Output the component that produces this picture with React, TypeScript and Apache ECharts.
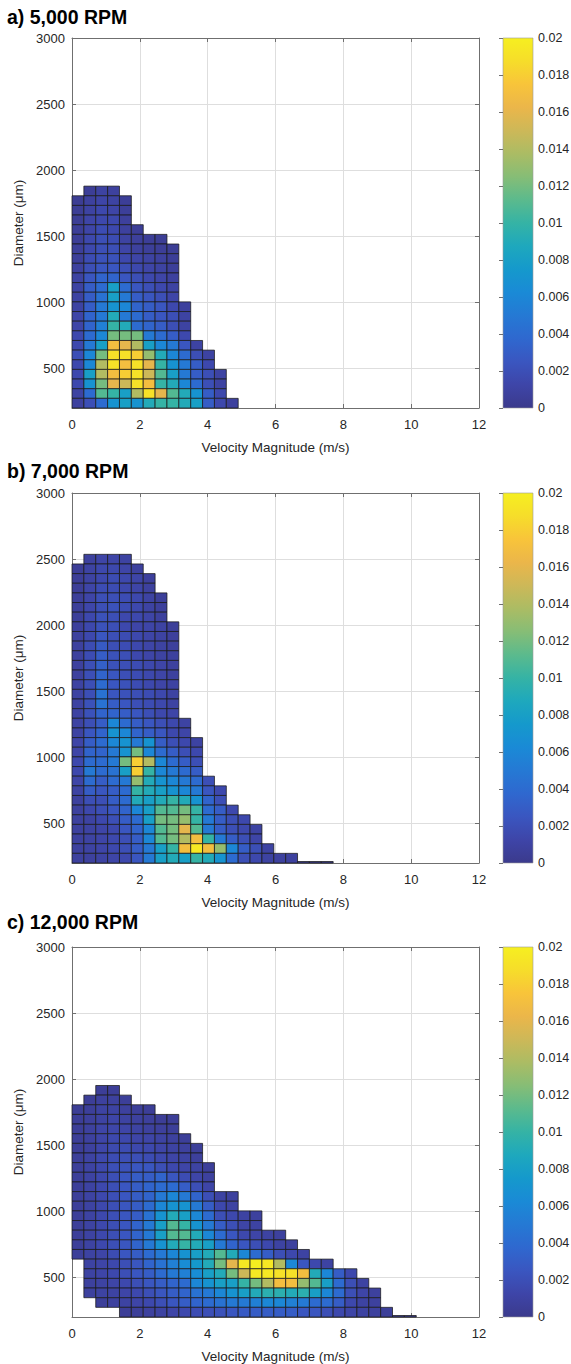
import React, { useEffect, useRef } from 'react';
import * as echarts from 'echarts';

// ---------- data ----------
const _ = null;
// histogram bins
const VEL_BIN = 0.35; // m/s, bin width along velocity
const DIA_START = 200; // µm, first diameter bin edge
const DIA_BIN = 73; // µm, bin height along diameter
const UNIT = 0.001; // values below are given in units of 10^-3

const titles = ['a) 5,000 RPM', 'b) 7,000 RPM', 'c) 12,000 RPM'];
const xTickStep = 2;
const colorbarTicks = { min: 0, max: 0.02, step: 0.002 };

// rows listed from top (largest diameter) to bottom; columns from 0 m/s upward
const density5000: (number | null)[][] = [
  [_, 0.5, 1, 0.8],
  [0.3, 0.8, 1.2, 1, 0.5],
  [0.4, 1, 1.5, 1.2, 0.6],
  [0.4, 1.2, 1.5, 1.5, 0.7],
  [0.5, 1.2, 1.8, 1.5, 0.8, 0.5],
  [0.5, 1.5, 2, 1.8, 1, 0.7, 0.5, 0.4],
  [0.6, 1.5, 2, 2, 1.2, 0.8, 0.6, 0.5, 0.4],
  [0.6, 1.8, 2.2, 2.2, 1.5, 1.2, 1, 0.8, 0.5],
  [0.8, 2, 2.5, 2.5, 2, 1.5, 1.2, 1, 0.6],
  [1, 2.5, 3.5, 3.5, 2.5, 2, 1.5, 1.2, 0.8],
  [1, 3, 4, 8, 4, 2.5, 2, 1.5, 1],
  [1, 3, 4.5, 8, 5, 3, 2.5, 2, 1.2],
  [1, 3, 5, 7, 6, 3.5, 3, 2.5, 1.5, 0.8],
  [1.2, 3.5, 5, 9, 5, 4, 3, 2.5, 2, 1],
  [1.2, 3.5, 5.5, 10, 9, 4, 3.5, 3, 2, 1],
  [1.5, 4, 6, 12, 12, 12, 5, 4, 3, 1.5],
  [1.5, 5, 8, 17, 16, 14, 8, 6, 5, 2.5, 1],
  [2, 6, 12, 19, 19, 18, 13, 9, 6, 4, 2, 1],
  [1.5, 6, 14, 19, 17, 19, 16, 10, 7, 5, 3, 1.5],
  [1.5, 8, 14, 17, 18, 19, 15, 11, 8, 5, 3, 2, 1],
  [1.5, 7, 12, 16, 15, 19, 17, 10, 9, 6, 4, 2, 1],
  [1, 4, 11, 10, 8, 14, 19, 16, 11, 9, 7, 3, 1.5],
  [0.8, 2, 4, 7, 8, 7, 9, 10, 10, 9, 8, 3, 1.5, 0.8],
];

const density7000: (number | null)[][] = [
  [_, 0.8, 1.2, 1.2, 1],
  [0.5, 1, 1.5, 1.5, 1.2, 0.8],
  [0.5, 1, 1.5, 1.8, 1.5, 1.2, 0.7],
  [0.5, 1.2, 1.8, 1.8, 1.5, 1.2, 0.8],
  [0.6, 1.2, 2, 2, 1.8, 1.5, 1, 0.6],
  [0.6, 1.3, 2, 2.2, 1.8, 1.5, 1, 0.7],
  [0.6, 1.5, 2.2, 2, 1.5, 1.5, 1.2, 0.8],
  [0.7, 1.5, 2.2, 2, 1.5, 1.2, 1.2, 1, 0.6],
  [0.8, 1.5, 2.5, 2, 1.8, 1.5, 1.2, 1, 0.7],
  [0.8, 1.8, 2.8, 2, 1.8, 1.5, 1.2, 1, 0.7],
  [0.8, 1.8, 3, 2.2, 2, 1.5, 1.2, 1, 0.8],
  [0.8, 2, 3.2, 2.2, 2, 1.8, 1.5, 1.2, 0.8],
  [0.8, 2, 3.5, 2.5, 2, 1.8, 1.5, 1.2, 0.8],
  [1, 2, 4, 2.5, 2.2, 1.8, 1.5, 1.2, 1],
  [1, 2, 4.5, 2.5, 2.2, 2, 1.8, 1.5, 1],
  [1, 2.2, 4.5, 3, 2.5, 2, 1.8, 1.5, 1],
  [1, 2.2, 3.5, 3.5, 3, 2.5, 2, 1.5, 1.2],
  [1, 2, 3, 6, 4, 3, 2.5, 2, 1.5, 1],
  [1, 2.5, 3.5, 7, 6, 3.5, 3, 2.5, 1.5, 1.2],
  [1.2, 3, 4, 6, 7, 5, 7, 3, 2, 1.5, 1],
  [1.2, 3.5, 3.5, 5, 7, 12, 6, 4, 3, 2, 1.5],
  [1.5, 4, 4, 5, 12, 18, 14, 6, 4, 3, 2],
  [1.5, 5, 4, 4.5, 8, 18, 10, 6, 5, 4, 3],
  [1.2, 4, 3, 4, 5, 13, 9, 7, 6, 5, 4, 2],
  [1, 3, 2.5, 3, 4, 10, 9, 8, 7, 6, 5, 2.5, 1.5],
  [0.8, 2, 2, 3, 4, 9, 8, 9, 10, 9, 7, 3.5, 2],
  [0.8, 1.5, 2, 2.5, 3.5, 6, 8, 11, 11, 12, 10, 4, 3, 1.5],
  [0.8, 1, 1.5, 2, 3, 4, 8, 12, 12, 13, 10, 5, 3, 2, 1.5],
  [0.8, 1, 1.2, 1.5, 2.5, 3.5, 6, 11, 12, 16, 11, 5, 3, 2, 1.5, 1],
  [0.8, 1, 1.2, 1.5, 2, 3, 6, 11, 12, 14, 17, 10, 5, 3, 2, 1.2],
  [0.8, 1, 1.2, 1.5, 2, 3, 5, 8, 10, 17, 19.5, 17, 13, 6, 3, 2, 1],
  [0.8, 0.8, 1, 1.2, 1.5, 2.5, 5, 8, 9, 8, 10, 9, 7, 4, 2, 1.5, 1, 0.8, 0.8],
];

const density12000: (number | null)[][] = [
  [_, _, 0.5, 0.5],
  [_, 0.5, 0.8, 0.8, 0.6],
  [0.4, 0.6, 1, 1, 0.8, 0.6, 0.5],
  [0.5, 0.7, 1, 1.2, 1, 0.8, 0.7, 0.5, 0.5],
  [0.5, 0.8, 1.2, 1.3, 1.2, 1, 0.8, 0.7, 0.6],
  [0.5, 0.8, 1.2, 1.5, 1.5, 1.2, 1.2, 1, 0.8, 0.6],
  [0.5, 0.8, 1.3, 1.6, 1.8, 1.5, 1.5, 1.2, 1, 0.8, 0.6],
  [0.6, 1, 1.5, 1.8, 2, 2, 1.8, 1.5, 1.2, 1, 0.7],
  [0.6, 1, 1.5, 2, 2.2, 2.5, 2.5, 2, 1.5, 1.2, 1, 0.6],
  [0.6, 1, 1.5, 2, 2.5, 3, 3, 3.5, 2.5, 1.8, 1.2, 0.8],
  [0.6, 1, 1.5, 2, 2.5, 3, 3.5, 4, 4, 3, 2, 1.2],
  [0.6, 1, 1.5, 2, 2.5, 3, 3.5, 5, 6, 5, 3.5, 2, 1, 0.8],
  [0.6, 1, 1.5, 2, 2.5, 3, 4, 6, 7, 7, 5, 3, 1.5, 1],
  [0.6, 1, 1.5, 2, 2.5, 3, 4.5, 7, 9, 8, 6, 4, 2, 1.5, 1, 0.8],
  [0.6, 1, 1.5, 2, 2.5, 3.5, 5, 8, 11, 10, 7, 5, 3, 2, 1.2, 1],
  [0.6, 1, 1.5, 2, 2.5, 3.5, 5, 8, 11, 11, 9, 6, 4, 2.5, 1.5, 1.2, 1, 0.8],
  [0.6, 1, 1.5, 2, 2.5, 3.5, 5, 7, 9, 10, 9, 8, 5, 3.5, 2.5, 2, 1.5, 1, 0.8],
  [0.6, 1, 1.2, 1.8, 2.5, 3, 4, 5, 6, 7, 8, 9, 11, 9, 6, 4, 3, 2, 1.5, 1],
  [_, 1, 1.2, 1.5, 2, 2.5, 3.5, 4.5, 5.5, 6.5, 7.5, 9, 12, 16, 19.5, 20, 19.5, 14, 6, 2.5, 1.5, 1],
  [_, 1, 1.2, 1.5, 2, 2.5, 3, 4, 5, 5.5, 6.5, 8, 9, 12, 15, 19.5, 19.5, 19, 19, 17, 9, 6, 3, 1.5],
  [_, 0.8, 1, 1.2, 1.5, 2, 2.5, 3, 3.5, 4, 6, 7, 8, 8, 10, 12, 14, 17, 17, 13, 11, 8, 4, 2, 1],
  [_, 0.8, 1, 1, 1.2, 1.5, 2, 2.5, 3, 3.5, 4.5, 5, 6, 7, 8, 9, 9.5, 9.5, 9, 9.5, 8, 6, 4, 2, 1.2, 0.8],
  [_, _, 0.6, 0.8, 1, 1.2, 1.5, 2, 2.5, 3, 3.5, 4, 4.5, 5, 5, 5.5, 6, 6, 5.5, 5, 4, 4, 3, 1.5, 1, 0.8],
  [_, _, _, _, 0.5, 0.6, 0.8, 1, 1.2, 1.5, 1.8, 2, 2.2, 2.5, 2.8, 3, 3, 3, 3, 2.5, 2.5, 2, 1.5, 1.2, 1, 0.8, 0.6],
];

// columns whose lowest bin only shows as a thin strip on the axis
const sliver5000: number[] = [];
const sliver7000: number[] = [19, 20, 21];
const sliver12000: number[] = [27, 28];
const sliverValue = 0.3;

// ---------- styling ----------
// parula-like colormap, muted to match the printed figure
const PARULA = [
  '#3b3a8c', '#3e45a8', '#3a56c0', '#2f68cf', '#2579d4', '#1a8ad6', '#1599cc', '#1ea8bd',
  '#35b3a5', '#5bba8d', '#86bd76', '#abbc64', '#cdb858', '#ebb64a', '#f8c43a', '#f6dd2a', '#f6ef20',
];
const FONT = '"Liberation Sans", Arial, Helvetica, sans-serif';
const AXIS_COLOR = '#6f6f6f';
const TEXT_COLOR = '#262626';
const PLOT_LEFT = 72;
const PLOT_WIDTH = 407;
const PLOT_HEIGHT = 370;
const CB_LEFT = 503;
const CB_WIDTH = 30;
const PANEL_TOPS = [38, 493, 947];
const TITLE_TOPS = [6, 460, 911];

function toCells(rowsTopDown: (number | null)[][], slivers: number[]) {
  const out: number[][] = [];
  const n = rowsTopDown.length;
  rowsTopDown.forEach((row, i) => {
    const r = n - 1 - i;
    row.forEach((v, c) => {
      if (v != null) out.push([c * VEL_BIN, DIA_START + r * DIA_BIN, v * UNIT, 0]);
    });
  });
  slivers.forEach((c) => out.push([c * VEL_BIN, DIA_START, sliverValue * UNIT, 1]));
  return out;
}

const panelData = [
  toCells(density5000, sliver5000),
  toCells(density7000, sliver7000),
  toCells(density12000, sliver12000),
];

function buildOption() {
  const grid: any[] = [];
  const xAxis: any[] = [];
  const yAxis: any[] = [];
  const series: any[] = [];
  const title: any[] = [];
  const axisLine = { show: true, onZero: false, lineStyle: { color: AXIS_COLOR, width: 1 } };
  const tick = { show: true, inside: true, length: 4, lineStyle: { color: AXIS_COLOR } };
  const labelStyle = { fontSize: 13, color: TEXT_COLOR, fontFamily: FONT };

  PANEL_TOPS.forEach((top, k) => {
    grid.push({ left: PLOT_LEFT, top, width: PLOT_WIDTH, height: PLOT_HEIGHT, outerBoundsMode: 'none' });
    title.push({
      text: titles[k], left: 7, top: TITLE_TOPS[k], padding: 0,
      textStyle: { fontSize: 19.5, fontWeight: 'bold', color: '#000', fontFamily: FONT, lineHeight: 22 },
    });
  });
  PANEL_TOPS.forEach((top) => {
    grid.push({ left: CB_LEFT, top, width: CB_WIDTH, height: PLOT_HEIGHT, outerBoundsMode: 'none' });
  });

  // plot x axes (bottom)
  for (let k = 0; k < 3; k++) {
    xAxis.push({
      gridIndex: k, type: 'value', position: 'bottom', min: 0, max: 12, interval: xTickStep,
      axisLine, axisTick: tick,
      axisLabel: { ...labelStyle, margin: 10 },
      splitLine: { show: true, lineStyle: { color: '#dedede', width: 1 } },
      name: 'Velocity Magnitude (m/s)', nameLocation: 'middle', nameGap: 32,
      nameTextStyle: { ...labelStyle, fontSize: 13.5 },
    });
  }
  // plot x axes (top mirror)
  for (let k = 0; k < 3; k++) {
    xAxis.push({
      gridIndex: k, type: 'value', position: 'top', min: 0, max: 12, interval: xTickStep,
      axisLine, axisTick: tick, axisLabel: { show: false }, splitLine: { show: false },
    });
  }
  // colorbar x axes
  for (let k = 0; k < 3; k++) {
    xAxis.push({ gridIndex: 3 + k, type: 'value', min: 0, max: 1, show: false });
  }

  const yLabelFmt = (v: number) => (v % 500 === 0 ? String(v) : '');
  for (let k = 0; k < 3; k++) {
    yAxis.push({
      gridIndex: k, type: 'value', position: 'left', min: 200, max: 3000, minInterval: 500, maxInterval: 500,
      axisLine, axisTick: tick,
      axisLabel: { ...labelStyle, margin: 7, formatter: yLabelFmt },
      splitLine: { show: true, lineStyle: { color: '#dedede', width: 1 } },
      name: 'Diameter (μm)', nameLocation: 'middle', nameGap: 39, nameRotate: 90,
      nameTextStyle: { ...labelStyle, fontSize: 13.5 },
    });
  }
  for (let k = 0; k < 3; k++) {
    yAxis.push({
      gridIndex: k, type: 'value', position: 'right', min: 200, max: 3000, minInterval: 500, maxInterval: 500,
      axisLine, axisTick: tick, axisLabel: { show: false }, splitLine: { show: false },
    });
  }
  for (let k = 0; k < 3; k++) {
    yAxis.push({
      gridIndex: 3 + k, type: 'value', position: 'right', z: 5,
      min: colorbarTicks.min, max: colorbarTicks.max, interval: colorbarTicks.step,
      axisLine: { show: false },
      axisTick: { show: true, inside: true, length: 4, lineStyle: { color: AXIS_COLOR } },
      axisLabel: { fontSize: 12.5, color: TEXT_COLOR, fontFamily: FONT, margin: 5,
        formatter: (v: number) => String(+v.toFixed(3)) },
      splitLine: { show: false },
    });
  }

  for (let k = 0; k < 3; k++) {
    series.push({
      type: 'custom', xAxisIndex: k, yAxisIndex: k, data: panelData[k],
      encode: { x: 0, y: 1 }, silent: true, z: 2,
      renderItem: (params: any, api: any) => {
        const x0 = api.value(0) as number;
        const y0 = api.value(1) as number;
        const isSliver = api.value(3) === 1;
        const a = api.coord([x0, y0]);
        const b = api.coord([x0 + VEL_BIN, y0 + DIA_BIN]);
        const w = b[0] - a[0];
        const h = isSliver ? 1.5 : a[1] - b[1];
        const yTop = isSliver ? a[1] - 1.5 : b[1];
        return {
          type: 'rect',
          shape: { x: a[0], y: yTop, width: w, height: h },
          style: { fill: api.visual('color'), stroke: '#1a1a1a', lineWidth: 0.75 },
        };
      },
    });
  }
  const gradStops = PARULA.map((c, i) => ({ offset: i / (PARULA.length - 1), color: c }));
  for (let k = 0; k < 3; k++) {
    series.push({
      type: 'custom', xAxisIndex: 6 + k, yAxisIndex: 6 + k, data: [[0, colorbarTicks.min]],
      silent: true, z: 1,
      renderItem: (params: any, api: any) => {
        const a = api.coord([0, colorbarTicks.min]);
        const b = api.coord([1, colorbarTicks.max]);
        return {
          type: 'rect',
          shape: { x: a[0], y: b[1], width: b[0] - a[0], height: a[1] - b[1] },
          style: {
            fill: new echarts.graphic.LinearGradient(0, 1, 0, 0, gradStops),
            stroke: '#9a9a9a', lineWidth: 0.6,
          },
        };
      },
    });
  }

  return {
    animation: false,
    backgroundColor: '#ffffff',
    textStyle: { fontFamily: FONT },
    title,
    grid,
    xAxis,
    yAxis,
    visualMap: {
      type: 'continuous', show: false, min: colorbarTicks.min, max: colorbarTicks.max,
      dimension: 2, seriesIndex: [0, 1, 2], inRange: { color: PARULA },
    },
    series,
  };
}

export default function App() {
  const ref = useRef<HTMLDivElement>(null);
  useEffect(() => {
    if (!ref.current) return;
    const chart = echarts.init(ref.current, null, { renderer: 'svg' });
    chart.setOption(buildOption() as any);
    return () => chart.dispose();
  }, []);
  return (
    <div
      ref={ref}
      style={{ position: 'absolute', left: 0, top: 0, width: 571, height: 1364, background: '#fff' }}
    />
  );
}
